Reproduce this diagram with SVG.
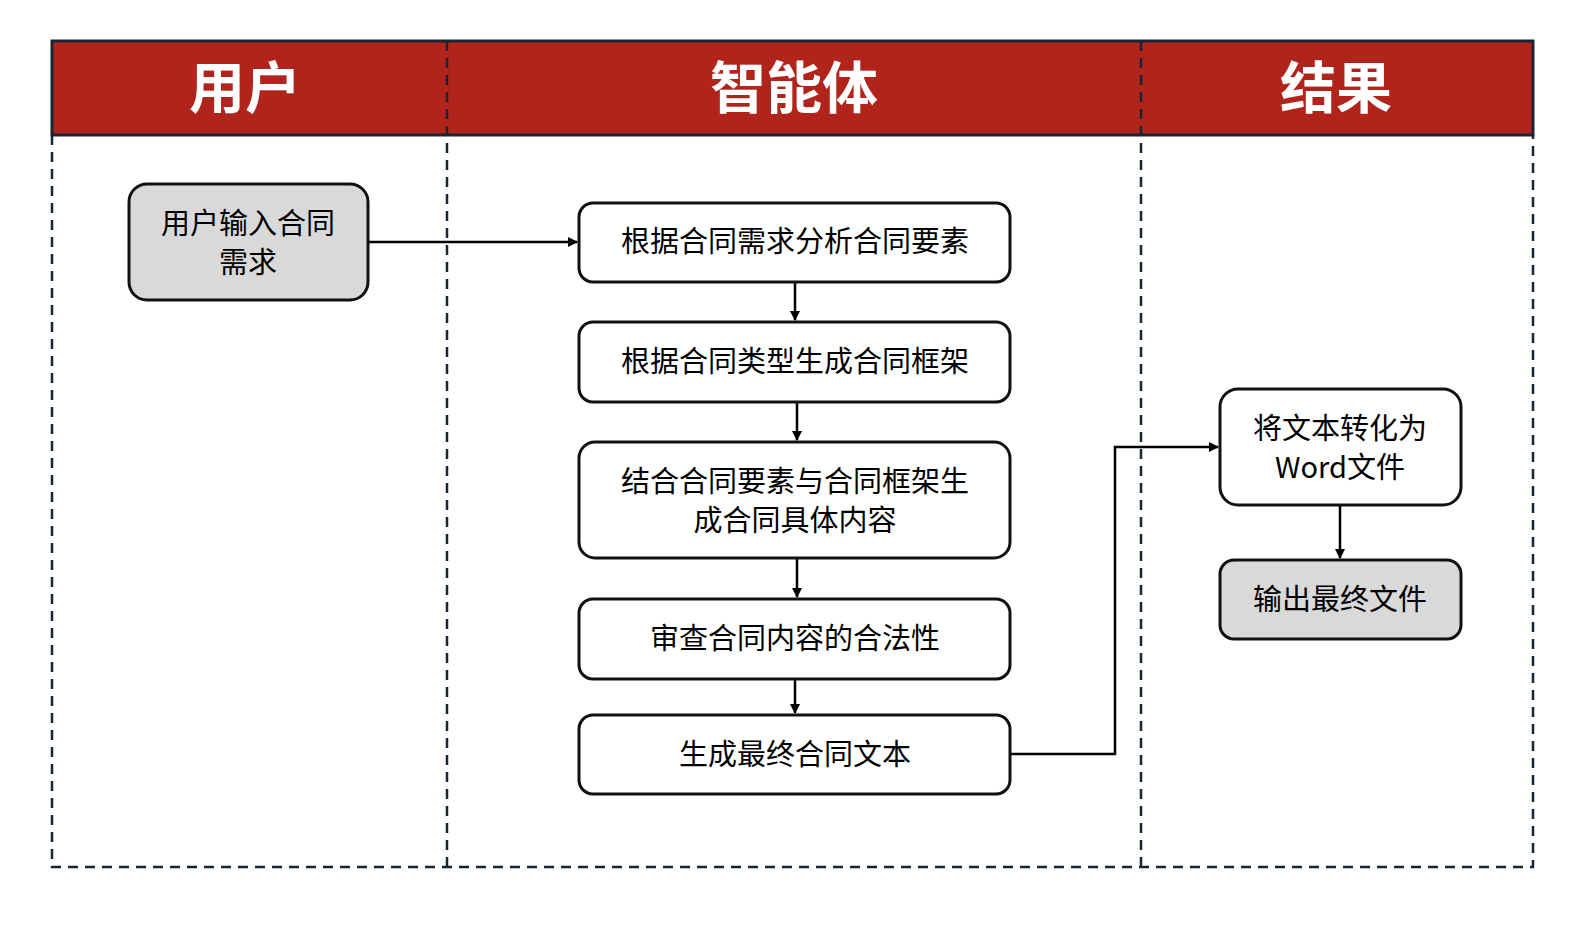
<svg xmlns="http://www.w3.org/2000/svg" width="1592" height="926" viewBox="0 0 1592 926">
<style>
.h{font-family:"Noto Sans CJK SC","Noto Sans",sans-serif;font-size:56px;font-weight:bold;fill:#fff;text-anchor:middle}
.t{font-family:"Noto Sans CJK SC","Noto Sans",sans-serif;font-size:29px;fill:#000;text-anchor:middle}
.n{fill:#fff;stroke:#111;stroke-width:3}
.g{fill:#d9d9d9;stroke:#111;stroke-width:3}
.d{stroke:#1a2533;stroke-width:2.5;stroke-dasharray:10,7;fill:none}
.c{stroke:#000;stroke-width:2.5;fill:none;marker-end:url(#a)}
</style>
<defs><marker id="a" viewBox="0 0 10 10" refX="9" refY="5" markerWidth="4" markerHeight="4" orient="auto"><path d="M0,0L10,5L0,10z" fill="#000"/></marker></defs>
<g id="lanes">
<rect x="52" y="41" width="1481" height="94" fill="#b0241b" stroke="#1a2533" stroke-width="3"/>
<path class="d" d="M52,135V867H1533V135M447,41V867M1141,41V867"/>
<text class="h" x="245" y="108">用户</text>
<text class="h" x="794" y="108">智能体</text>
<text class="h" x="1336" y="108">结果</text>
</g>
<g id="connectors">
<path class="c" d="M368,242H577"/>
<path class="c" d="M795,282V320"/>
<path class="c" d="M797,402V440"/>
<path class="c" d="M797,558V597"/>
<path class="c" d="M795,679V713"/>
<path class="c" d="M1010,754H1115V447H1218"/>
<path class="c" d="M1340,505V558"/>
</g>
<g id="n1"><rect class="g" x="129" y="184" width="239" height="116" rx="18"/><text class="t" x="248" y="234">用户输入合同</text><text class="t" x="248" y="273">需求</text></g>
<g id="n2"><rect class="n" x="579" y="203" width="431" height="79" rx="14"/><text class="t" x="795" y="252">根据合同需求分析合同要素</text></g>
<g id="n3"><rect class="n" x="579" y="322" width="431" height="80" rx="14"/><text class="t" x="795" y="372">根据合同类型生成合同框架</text></g>
<g id="n4"><rect class="n" x="579" y="442" width="431" height="116" rx="16"/><text class="t" x="795" y="492">结合合同要素与合同框架生</text><text class="t" x="795" y="531">成合同具体内容</text></g>
<g id="n5"><rect class="n" x="579" y="599" width="431" height="80" rx="14"/><text class="t" x="795" y="649">审查合同内容的合法性</text></g>
<g id="n6"><rect class="n" x="579" y="715" width="431" height="79" rx="14"/><text class="t" x="795" y="765">生成最终合同文本</text></g>
<g id="n7"><rect class="n" x="1220" y="389" width="241" height="116" rx="18"/><text class="t" x="1340" y="439">将文本转化为</text><text class="t" x="1340" y="478">Word文件</text></g>
<g id="n8"><rect class="g" x="1220" y="560" width="241" height="79" rx="14"/><text class="t" x="1340" y="610">输出最终文件</text></g>
</svg>
